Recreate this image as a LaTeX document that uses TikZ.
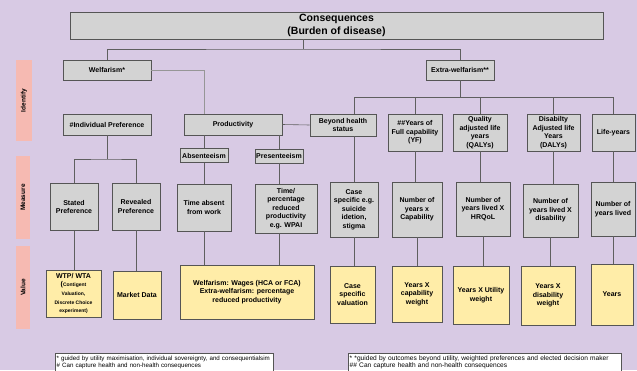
\documentclass[tikz,border=0pt]{standalone}
\usepackage{fontspec}
\setmainfont{Liberation Sans}
\definecolor{bgpurple}{RGB}{216,202,228}
\definecolor{boxgray}{RGB}{211,211,211}
\definecolor{boxline}{RGB}{85,85,85}
\definecolor{linegray}{RGB}{95,95,95}
\definecolor{lightline}{RGB}{150,150,150}
\definecolor{boxyellow}{RGB}{255,237,168}
\definecolor{sidesalmon}{RGB}{246,186,178}
\newcommand\smalltxt{\fontsize{5}{6.2}\selectfont}
\begin{document}
\begin{tikzpicture}[x=1pt,y=-1pt,
	box/.style={draw=boxline, line width=.6pt, align=center, inner sep=1pt, font=\bfseries\fontsize{7}{8.6}\selectfont},
	gbox/.style={box, fill=boxgray},
	ybox/.style={box, fill=boxyellow},
	side/.style={fill=sidesalmon, rotate=90, inner sep=0pt, font=\bfseries\fontsize{6.5}{7.5}\selectfont},
	note/.style={draw=boxline, line width=.4pt, fill=white, align=left, anchor=north west, inner sep=1.5pt, font=\fontsize{6.2}{6.8}\selectfont},
	link/.style={draw=linegray, line width=.6pt}]
	\fill[bgpurple] (0,0) rectangle (637,370);
	\useasboundingbox (0,0) rectangle (637,370);
	% rows
	\node[side, minimum width=81, minimum height=16] (identify) at (24,100.5) {Identify};
	\node[side, minimum width=83, minimum height=14] (measure) at (23,197.5) {Measure};
	\node[side, minimum width=83, minimum height=14] (value) at (23,287.5) {Value};
	% identify
	\node[gbox, minimum width=533, minimum height=27, font=\bfseries\fontsize{10.5}{12.5}\selectfont] (cons) at (336.5,25.5) {Consequences\\(Burden of disease)};
	\node[gbox, minimum width=88, minimum height=20] (welf) at (107,70) {Welfarism*};
	\node[gbox, minimum width=68, minimum height=20] (extra) at (460,70) {Extra-welfarism**};
	\node[gbox, minimum width=88, minimum height=21] (indiv) at (107,124.5) {\#Individual Preference};
	\node[gbox, minimum width=98, minimum height=21] (prod) at (233,124.5) {Productivity};
	\node[gbox, minimum width=66, minimum height=22] (beyond) at (343,125) {Beyond health\\status};
	\node[gbox, minimum width=54, minimum height=37] (yf) at (415,132.5) {\#\#Years of\\Full capability\\(YF)};
	\node[gbox, minimum width=54, minimum height=37] (qaly) at (480,132.5) {Quality\\adjusted life\\years\\(QALYs)};
	\node[gbox, minimum width=53, minimum height=37] (daly) at (553.5,132.5) {Disabilty\\Adjusted life\\Years\\(DALYs)};
	\node[gbox, minimum width=43, minimum height=37] (life) at (613.5,132.5) {Life-years};
	\node[gbox, minimum width=48, minimum height=14, inner sep=0pt] (absent) at (204,155.5) {Absenteeism};
	\node[gbox, minimum width=48, minimum height=14, inner sep=0pt] (present) at (279,156) {Presenteeism};
	% measure
	\node[gbox, minimum width=48, minimum height=47] (stated) at (74,207) {Stated\\Preference};
	\node[gbox, minimum width=48, minimum height=47] (revealed) at (136,206.5) {Revealed\\Preference};
	\node[gbox, minimum width=54, minimum height=47] (timeabs) at (204,207.5) {Time absent\\from work};
	\node[gbox, minimum width=62, minimum height=49] (timepct) at (286,208.5) {Time/\\percentage\\reduced\\productivity\\e.g. WPAI};
	\node[gbox, minimum width=48, minimum height=55] (casespec) at (354,209.5) {Case\\specific e.g.\\suicide\\idetion,\\stigma};
	\node[gbox, minimum width=50, minimum height=55] (numcap) at (417,209.5) {Number of\\years x\\Capability};
	\node[gbox, minimum width=54, minimum height=54] (numhrq) at (483,209) {Number of\\years lived X\\HRQoL};
	\node[gbox, minimum width=55, minimum height=53] (numdis) at (550.5,210.5) {Number of\\years lived X\\disability};
	\node[gbox, minimum width=44, minimum height=54] (numlife) at (613,209) {Number of\\years lived};
	% value
	\node[ybox, minimum width=55, minimum height=47] (wtp) at (73.5,293.5) {WTP/ WTA\\(\smalltxt Contigent\\\smalltxt Valuation,\\\smalltxt Discrete Choice\\\smalltxt experiment)};
	\node[ybox, minimum width=48, minimum height=48] (market) at (137,295) {Market Data};
	\node[ybox, minimum width=134, minimum height=54] (wages) at (247,292) {Welfarism: Wages (HCA or FCA)\\Extra-welfarism: percentage\\reduced productivity};
	\node[ybox, minimum width=45, minimum height=57] (caseval) at (352.5,294.5) {Case\\specific\\valuation};
	\node[ybox, minimum width=50, minimum height=56] (yrcap) at (417,294) {Years X\\capability\\weight};
	\node[ybox, minimum width=56, minimum height=58] (yrutil) at (481,295) {Years X Utility\\weight};
	\node[ybox, minimum width=54, minimum height=59] (yrdis) at (548,295.5) {Years X\\disability\\weight};
	\node[ybox, minimum width=42, minimum height=61] (years) at (612,294.5) {Years};
	% notes
	\node[note, text width=215, minimum height=18] (notewelf) at (55,353) {* guided by utility maximisation, individual sovereignty, and consequentialsim\\\# Can capture health and non-health consequences};
	\node[note, text width=270, minimum height=18, font=\fontsize{6.6}{7}\selectfont] (noteextra) at (348,353) {* *guided by outcomes beyond utility, weighted preferences and elected decision maker\\\#\# Can capture health and non-health consequences};
	% connectors
	\coordinate (topbar) at (303,49);
	\coordinate (extbar) at (460,97);
	\coordinate (indbar) at (107,159);
	\draw[link] (topbar |- cons.south) -- (topbar);
	\draw[link] (welf.north) |- (topbar) -| (extra.north);
	\draw[link, draw=lightline] (welf.east) -| (absent.north |- prod.north);
	\draw[link] (prod.east) -- (beyond.west);
	\draw[link] (extra.south) -- (extbar);
	\foreach \n in {yf, qaly, daly, life}
		{
			\draw[link] (extbar) -| (\n.north);
		}
	\draw[link] (extbar) -| (casespec.north |- beyond.north);
	\draw[link] (indiv.south) -- (indbar);
	\draw[link] (stated.north) |- (indbar) -| (revealed.north);
	\draw[link] (absent.north |- prod.south) -- (absent.north);
	\draw[link] (present.north |- prod.south) -- (present.north);
	\draw[link] (present.south) -- (present.south |- timepct.north);
	\draw[link] (present.south |- timepct.south) -- (present.south |- wages.north);
	\draw[link] (casespec.north |- beyond.south) -- (casespec.north);
	\foreach \a/\b in {absent/timeabs, timeabs/wages, stated/wtp, revealed/market, casespec/caseval, yf/numcap, numcap/yrcap, qaly/numhrq, numhrq/yrutil, daly/numdis, numdis/yrdis, life/numlife, numlife/years}
		{
			\draw[link] (\a.south) -- (\a.south |- \b.north);
		}
\end{tikzpicture}
\end{document}
